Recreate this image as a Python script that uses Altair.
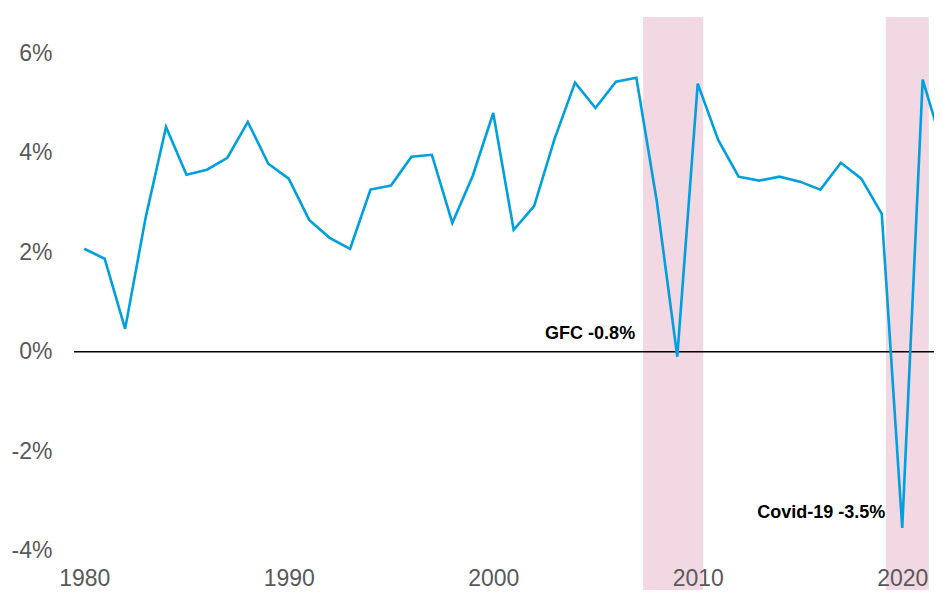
import altair as alt
import pandas as pd

years = list(range(1980, 2023))
growth = [2.07, 1.87, 0.46, 2.69, 4.52, 3.56, 3.66, 3.90, 4.62, 3.78,
          3.48, 2.65, 2.29, 2.07, 3.26, 3.34, 3.92, 3.96, 2.59, 3.54,
          4.80, 2.45, 2.93, 4.28, 5.41, 4.90, 5.43, 5.51, 3.02, -0.10,
          5.39, 4.26, 3.52, 3.44, 3.52, 3.42, 3.26, 3.80, 3.48, 2.77,
          -3.54, 5.47, 4.10]

band_start = [2007.33, 2019.2]
band_end = [2010.27, 2021.3]

ann_text = ["GFC -0.8%", "Covid-19 -3.5%"]
ann_x = [2006.94, 2019.17]
ann_y = [0.36, -3.24]

y_ticks = [-4, -2, 0, 2, 4, 6]
x_ticks = [1980, 1990, 2000, 2010, 2020]

W, H = 860, 573
X_DOMAIN = [1979.5, 1979.5 + W / 20.45]
Y_DOMAIN = [-4.79, 6.73]

df = pd.DataFrame({"year": years, "growth": growth})
bands = pd.DataFrame({"start": band_start, "end": band_end})
ann = pd.DataFrame({"text": ann_text, "x": ann_x, "y": ann_y})
zero = pd.DataFrame({"y": [0]})

xs = alt.Scale(domain=X_DOMAIN, nice=False, zero=False)
ys = alt.Scale(domain=Y_DOMAIN, nice=False, zero=False)

shade = alt.Chart(bands).mark_rect(color="#F2D8E2", clip=True).encode(
    x=alt.X("start:Q", scale=xs, axis=alt.Axis(
        values=x_ticks, format="d", title=None, domain=False, ticks=False,
        tickSize=0, grid=False, labelFontSize=23, labelColor="#595959",
        labelFont="Liberation Sans", labelPadding=0, offset=-12,
        labelBaseline="middle", labelFlush=False, zindex=2)),
    x2="end:Q",
    y=alt.value(0),
    y2=alt.value(H),
)

zline = alt.Chart(zero).mark_rule(color="black", strokeWidth=1.6).encode(
    y=alt.Y("y:Q", scale=ys),
    x=alt.value(0), x2=alt.value(W),
)

line = alt.Chart(df).mark_line(color="#009FE0", strokeWidth=2.6, clip=True).encode(
    x=alt.X("year:Q", scale=xs),
    y=alt.Y("growth:Q", scale=ys, axis=alt.Axis(
        values=y_ticks, title=None, domain=False, ticks=False, tickSize=0,
        grid=False, labelFontSize=23, labelColor="#595959",
        labelFont="Liberation Sans", labelPadding=22,
        labelExpr="datum.value + '%'", labelFlush=False)),
)

texts = alt.Chart(ann).mark_text(
    align="right", baseline="middle", fontSize=18, fontWeight="bold",
    font="Liberation Sans", color="black").encode(
    x=alt.X("x:Q", scale=xs),
    y=alt.Y("y:Q", scale=ys),
    text="text:N",
)

chart = alt.layer(shade, zline, line, texts).properties(
    width=W, height=H,
    autosize=alt.AutoSizeParams(type="none"),
    padding={"left": 66, "top": 9, "right": 0, "bottom": 0},
).configure_view(stroke=None)

chart.save("out.html", embed_options={"renderer": "svg", "actions": False})
